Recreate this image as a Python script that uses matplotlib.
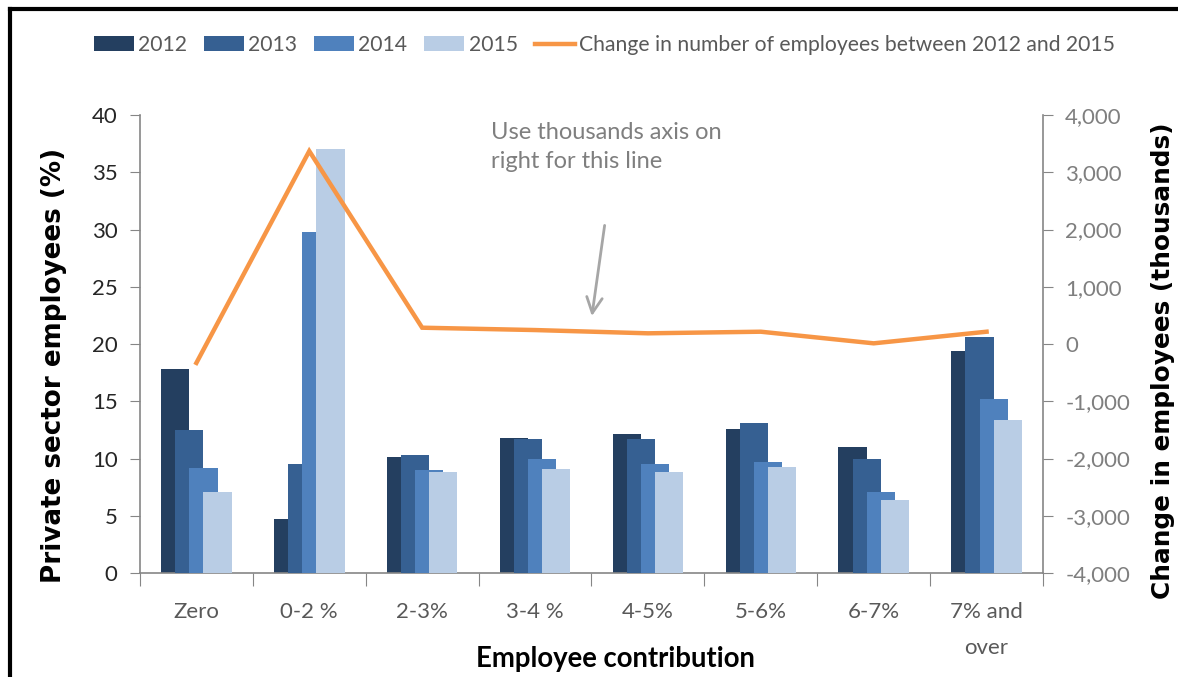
import matplotlib
matplotlib.use("Agg")
import matplotlib.pyplot as plt
import numpy as np
from matplotlib.ticker import FuncFormatter, MultipleLocator, FixedLocator

categories = ["Zero", "0-2 %", "2-3%", "3-4 %", "4-5%", "5-6%", "6-7%", "7% and\nover"]
years = ["2012", "2013", "2014", "2015"]
share_2012 = [17.8, 4.7, 10.1, 11.8, 12.1, 12.6, 11.0, 19.4]
share_2013 = [12.5, 9.5, 10.3, 11.7, 11.7, 13.1, 10.0, 20.6]
share_2014 = [9.2, 29.8, 9.0, 10.0, 9.5, 9.7, 7.1, 15.2]
share_2015 = [7.1, 37.0, 8.8, 9.1, 8.8, 9.3, 6.4, 13.4]
change_2012_2015 = [-330, 3370, 285, 244, 187, 215, 12, 215]

bar_colors = ["#243F60", "#366092", "#4F81BD", "#B9CDE5"]
line_color = "#F79646"
narrow = ["Lato", "DejaVu Sans"]

fig = plt.figure(figsize=(11.78, 6.77), dpi=100)
ax = fig.add_axes([0.1188, 0.1536, 0.7666, 0.6765])

x = np.arange(len(categories))
width = 0.25
step = 0.125
for i, (yr, vals) in enumerate(zip(years, [share_2012, share_2013, share_2014, share_2015])):
    ax.bar(x + (i - 1.5) * step, vals, width, color=bar_colors[i], label=yr, zorder=2 + i)

ax.set_xlim(-0.5, len(categories) - 0.5)
ax.set_ylim(0, 40)
ax.yaxis.set_major_locator(MultipleLocator(5))

# category boundaries get tick marks, labels sit at the centres
ax.xaxis.set_major_locator(FixedLocator(np.arange(-0.5, len(categories), 1.0)))
ax.xaxis.set_major_formatter(FuncFormatter(lambda v, p: ""))
ax.xaxis.set_minor_locator(FixedLocator(x))
ax.set_xticklabels(categories, minor=True)
ax.tick_params(axis="x", which="major", length=9, color="#868686", direction="out")
ax.tick_params(axis="x", which="minor", length=0, pad=21, labelsize=16, labelcolor="#595959")
for lab in ax.get_xticklabels(minor=True):
    lab.set_family(narrow)
    lab.set_linespacing(2.0)
    lab.set_verticalalignment("top")

ax.tick_params(axis="y", length=7, color="#868686", labelsize=16, labelcolor="#262626", pad=9)
for lab in ax.get_yticklabels():
    lab.set_family(narrow)

for side in ["top", "right"]:
    ax.spines[side].set_visible(False)
for side in ["left", "bottom"]:
    ax.spines[side].set_color("#868686")
    ax.spines[side].set_linewidth(1.2)

ax.set_ylabel("Private sector employees (%)", fontsize=18.8, fontweight="bold")
ax.yaxis.set_label_coords(-0.081, 0.454)
ax.set_xlabel("Employee contribution", fontsize=19.8, fontweight="bold", family=narrow)
ax.xaxis.set_label_coords(0.527, -0.188)
ax.xaxis.label.set_verticalalignment("center")

# change in employees on the right-hand axis
ax2 = ax.twinx()
ax2.plot(x, change_2012_2015, color=line_color, lw=3.2, solid_joinstyle="miter",
         label="Change in number of employees between 2012 and 2015", zorder=10)
ax2.set_ylim(-4000, 4000)
ax2.yaxis.set_major_locator(MultipleLocator(1000))
ax2.yaxis.set_major_formatter(FuncFormatter(lambda v, p: f"{v:,.0f}"))
ax2.tick_params(axis="y", length=7, color="#868686", labelsize=16, labelcolor="#7f7f7f", pad=9)
for lab in ax2.get_yticklabels():
    lab.set_family(narrow)
for side in ["top", "left", "bottom"]:
    ax2.spines[side].set_visible(False)
ax2.spines["right"].set_color("#868686")
ax2.spines["right"].set_linewidth(1.2)
ax2.set_ylabel("Change in employees (thousands)", fontsize=17.8, fontweight="bold")
ax2.yaxis.set_label_coords(1.12, 0.463)

ax.text(2.61, 39.4, "Use thousands axis on\nright for this line", fontsize=17, family=narrow,
        color="#7f7f7f", va="top", ha="left", linespacing=1.5, zorder=20)
ax.annotate("", xy=(3.50, 22.2), xytext=(3.62, 30.6),
            arrowprops=dict(arrowstyle="->", color="#a6a6a6", lw=2, mutation_scale=28),
            zorder=20)

handles = ax.get_legend_handles_labels()[0] + ax2.get_legend_handles_labels()[0]
labels = years + ["Change in number of employees between 2012 and 2015"]
fig.legend(handles, labels, loc="center", bbox_to_anchor=(0.513, 1 - 45 / 677), ncol=5,
           frameon=False, handlelength=1.9, handleheight=0.7, handletextpad=0.2,
           columnspacing=0.8, prop={"family": narrow, "size": 15.2}, labelcolor="#595959")

# frame lines along the top and left edge
fig.add_artist(plt.Line2D([10 / 1178, 1], [1 - 9 / 677, 1 - 9 / 677], color="black", lw=3,
                          transform=fig.transFigure))
fig.add_artist(plt.Line2D([10 / 1178, 10 / 1178], [0, 1 - 9 / 677], color="black", lw=3,
                          transform=fig.transFigure))

fig.savefig("out.png", dpi=100)
